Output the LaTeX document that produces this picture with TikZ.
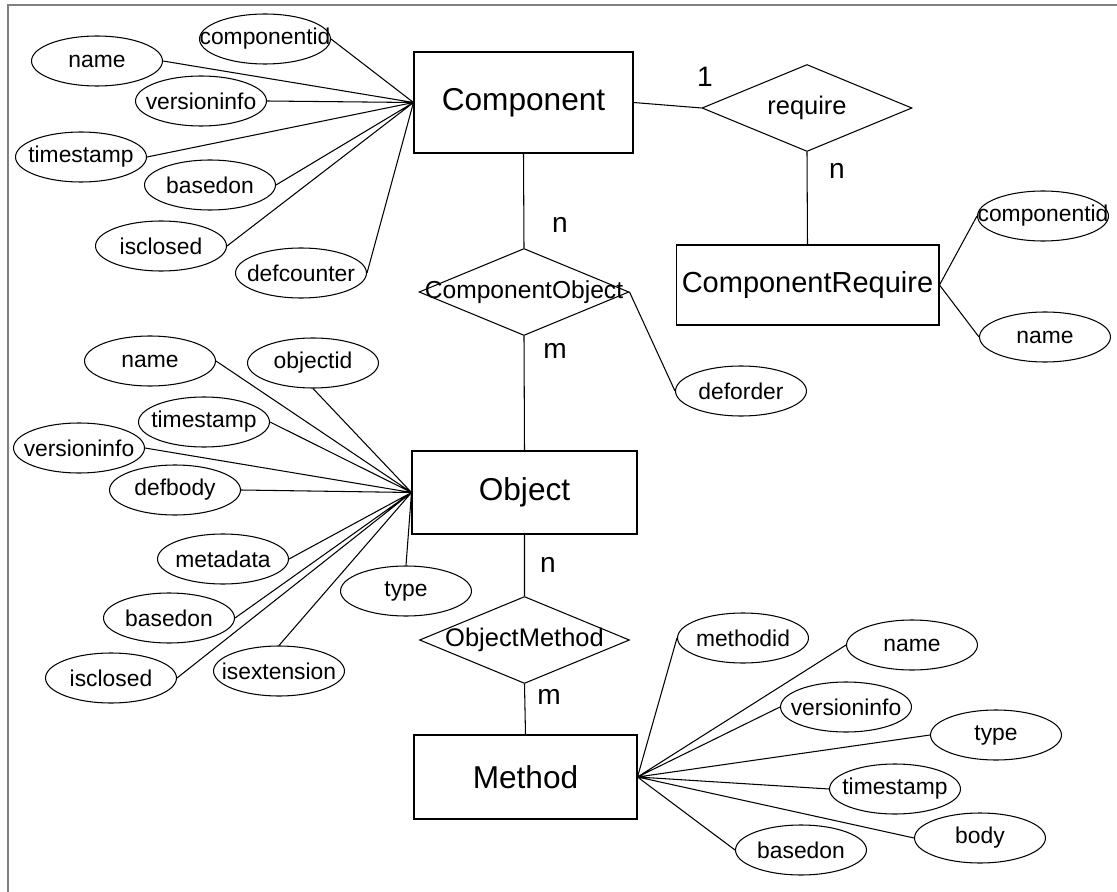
\documentclass[tikz,border=0pt]{standalone}
\usepackage{fontspec}
\setmainfont{Liberation Sans}
\usetikzlibrary{shapes.geometric}

\begin{document}
\begin{tikzpicture}[x=0.02cm,y=-0.02cm,line width=0.6pt,
  nobox/.style={execute at begin node={\hbox to 0pt\bgroup\hss},execute at end node={\hss\egroup}},
  entity/.style={draw,rectangle,inner sep=0pt,nobox,font=\fontsize{18}{20}\selectfont},
  relation/.style={draw,diamond,inner sep=0pt,minimum width=4.2cm,minimum height=1.74cm,nobox,font=\fontsize{14.5}{16}\selectfont},
  attr/.style={draw,ellipse,inner sep=0pt,minimum width=2.62cm,minimum height=1cm,nobox,font=\fontsize{13}{15}\selectfont},
  card/.style={inner sep=0pt,font=\fontsize{16}{18}\selectfont}]
\useasboundingbox (0,0) rectangle (1117,892);
\draw[gray,line width=1.2pt] (8,892) -- (8,5) -- (1117,5);

\node[entity,minimum width=4.38cm,minimum height=2.02cm] (comp) at (523.5,102.5) {Component};
\node[entity,minimum width=5.26cm,minimum height=1.6cm,font=\fontsize{16.5}{18}\selectfont] (compreq) at (807.5,285) {ComponentRequire};
\node[entity,minimum width=4.5cm,minimum height=1.66cm] (obj) at (524.5,492.5) {Object};
\node[entity,minimum width=4.46cm,minimum height=1.68cm] (meth) at (525.5,777) {Method};

\node[relation] (require) at (807,108) {require};
\node[relation,font=\fontsize{14}{16}\selectfont] (compobj) at (524,292) {ComponentObject};
\node[relation] (objmeth) at (524.5,640) {ObjectMethod};

\node[card] (c1) at (705,77) {1};
\node[card] (c2) at (837,171) {n};
\node[card] (c3) at (560,225) {n};
\node[card] (c4) at (555,351) {m};
\node[card] (c5) at (548,565) {n};
\node[card] (c6) at (549,697) {m};

\node[attr] (cid) at (265,39) {componentid};
\node[attr] (cname) at (97,61) {name};
\node[attr] (cver) at (201,101) {versioninfo};
\node[attr] (cts) at (81,157) {timestamp};
\node[attr] (cbased) at (210,185) {basedon};
\node[attr] (cclosed) at (161,246) {isclosed};
\node[attr] (cdefc) at (301,273) {defcounter};

\node[attr] (rid) at (1043,216) {componentid};
\node[attr] (rname) at (1045,337) {name};

\node[attr] (deforder) at (741,391) {deforder};

\node[attr] (oname) at (150,361) {name};
\node[attr] (oid) at (313,363) {objectid};
\node[attr] (ots) at (204,422) {timestamp};
\node[attr] (over) at (79,448) {versioninfo};
\node[attr] (obody) at (175,490) {defbody};
\node[attr] (ometa) at (223,559) {metadata};
\node[attr] (obased) at (169,618) {basedon};
\node[attr] (oclosed) at (111,678) {isclosed};
\node[attr] (oext) at (279,671) {isextension};
\node[attr] (otype) at (406,591) {type};

\node[attr] (mid) at (743,638) {methodid};
\node[attr] (mname) at (912,645) {name};
\node[attr] (mver) at (846,707) {versioninfo};
\node[attr] (mtype) at (996,735) {type};
\node[attr] (mts) at (895,789) {timestamp};
\node[attr] (mbody) at (980,838) {body};
\node[attr] (mbased) at (801,850) {basedon};

\draw (comp.east) -- (require.west) (require.south) -- (compreq.north) (comp.south) -- (compobj.north) (compobj.south) -- (obj.north) (obj.south) -- (objmeth.north) (objmeth.south) -- (meth.north) (compobj.east) -- (deforder.west);
\draw (comp.west) -- (cid.east) (comp.west) -- (cname.east) (comp.west) -- (cver.east) (comp.west) -- (cts.east) (comp.west) -- (cbased.east) (comp.west) -- (cclosed.east) (comp.west) -- (cdefc.east);
\draw (compreq.east) -- (rid.west) (compreq.east) -- (rname.west);
\draw (obj.west) -- (oname.east) (obj.west) -- (oid.south) (obj.west) -- (ots.east) (obj.west) -- (over.east) (obj.west) -- (obody.east) (obj.west) -- (ometa.east) (obj.west) -- (obased.east) (obj.west) -- (oclosed.east) (obj.west) -- (oext.north) (obj.west) -- (otype.north);
\draw (meth.east) -- (mid.west) (meth.east) -- (mname.west) (meth.east) -- (mver.west) (meth.east) -- (mtype.west) (meth.east) -- (mts.west) (meth.east) -- (mbody.west) (meth.east) -- (mbased.west);
\end{tikzpicture}
\end{document}
